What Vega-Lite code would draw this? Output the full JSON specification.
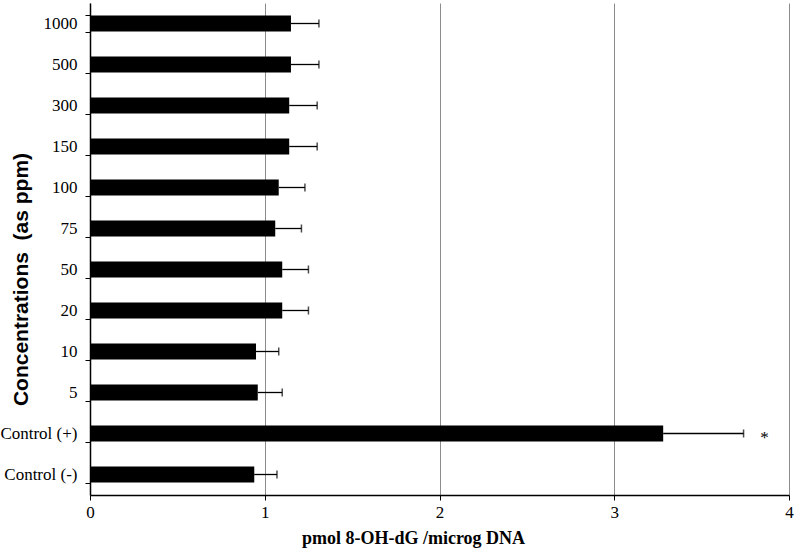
{
  "$schema": "https://vega.github.io/schema/vega-lite/v6.json",
  "width": 699,
  "height": 492,
  "autosize": {"type": "none"},
  "padding": {"left": 90, "top": 3, "right": 6, "bottom": 60},
  "background": "white",
  "config": {"view": {"stroke": null}},
  "data": {
    "values": [
      {"conc": "1000", "mean": 1.15, "err": 1.31, "sig": ""},
      {"conc": "500", "mean": 1.15, "err": 1.31, "sig": ""},
      {"conc": "300", "mean": 1.14, "err": 1.30, "sig": ""},
      {"conc": "150", "mean": 1.14, "err": 1.30, "sig": ""},
      {"conc": "100", "mean": 1.08, "err": 1.23, "sig": ""},
      {"conc": "75", "mean": 1.06, "err": 1.21, "sig": ""},
      {"conc": "50", "mean": 1.10, "err": 1.25, "sig": ""},
      {"conc": "20", "mean": 1.10, "err": 1.25, "sig": ""},
      {"conc": "10", "mean": 0.95, "err": 1.08, "sig": ""},
      {"conc": "5", "mean": 0.96, "err": 1.10, "sig": ""},
      {"conc": "Control (+)", "mean": 3.28, "err": 3.74, "sig": "*"},
      {"conc": "Control (-)", "mean": 0.94, "err": 1.07, "sig": ""}
    ]
  },
  "encoding": {
    "y": {
      "field": "conc",
      "type": "nominal",
      "sort": null,
      "scale": {"paddingInner": 0.6, "paddingOuter": 0.3},
      "axis": {
        "title": "Concentrations\u00a0 (as ppm)",
        "titleFont": "Liberation Sans",
        "titleFontSize": 21,
        "titleFontWeight": "bold",
        "titleColor": "black",
        "titleAngle": -90,
        "titleX": -63,
        "titleY": 276,
        "titleAlign": "center",
        "titleBaseline": "alphabetic",
        "labelFont": "Liberation Serif",
        "labelFontSize": 17,
        "labelColor": "black",
        "labelPadding": 8,
        "tickBand": "extent",
        "tickColor": "black",
        "tickSize": 5,
        "domainColor": "black",
        "domainWidth": 1.5,
        "grid": false
      }
    }
  },
  "layer": [
    {
      "mark": {"type": "bar", "color": "black", "size": 16},
      "encoding": {
        "x": {
          "field": "mean",
          "type": "quantitative",
          "scale": {"domain": [0, 4], "nice": false},
          "axis": {
            "title": "pmol 8-OH-dG /microg DNA",
            "titleFont": "Liberation Serif",
            "titleFontSize": 18,
            "titleFontWeight": "bold",
            "titleColor": "black",
            "titleX": 323,
            "titleY": 48,
            "titleAlign": "center",
            "titleBaseline": "alphabetic",
            "labelFont": "Liberation Serif",
            "labelFontSize": 17,
            "labelColor": "black",
            "labelPadding": 4,
            "labelFlush": false,
            "format": "d",
            "values": [0, 1, 2, 3, 4],
            "tickColor": "black",
            "tickSize": 5,
            "domainColor": "black",
            "domainWidth": 1.5,
            "grid": true,
            "gridColor": "#8c8c8c",
            "gridWidth": 1
          }
        }
      }
    },
    {
      "mark": {"type": "rule", "color": "black", "strokeWidth": 1.3},
      "encoding": {
        "x": {"field": "mean", "type": "quantitative"},
        "x2": {"field": "err"}
      }
    },
    {
      "mark": {"type": "tick", "color": "black", "size": 8, "thickness": 1.5, "orient": "vertical"},
      "encoding": {
        "x": {"field": "err", "type": "quantitative"}
      }
    },
    {
      "mark": {"type": "text", "font": "Liberation Serif", "fontSize": 17, "color": "black", "dx": 21, "dy": 4},
      "encoding": {
        "x": {"field": "err", "type": "quantitative"},
        "text": {"field": "sig"}
      }
    }
  ]
}
